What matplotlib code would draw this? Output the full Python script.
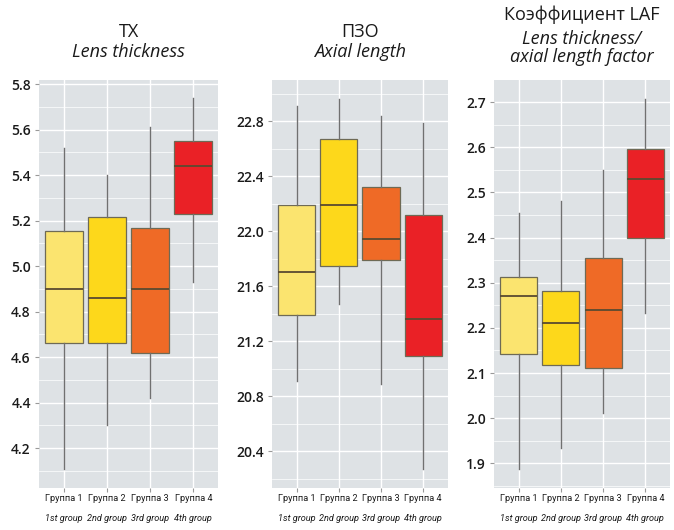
import matplotlib.pyplot as plt
from matplotlib.ticker import MultipleLocator

# group labels
groups_ru = ["Группа 1", "Группа 2", "Группа 3", "Группа 4"]
groups_en = ["1st group", "2nd group", "3rd group", "4th group"]
colors = ["#FBE46F", "#FDD81B", "#EF6A26", "#EA2126"]

# box stats per panel: whisker low, q1, median, q3, whisker high
lt_low = [4.11, 4.30, 4.42, 4.93]
lt_q1 = [4.66, 4.66, 4.62, 5.23]
lt_med = [4.90, 4.86, 4.90, 5.44]
lt_q3 = [5.155, 5.215, 5.167, 5.55]
lt_high = [5.52, 5.40, 5.61, 5.74]

al_low = [20.91, 21.47, 20.89, 20.27]
al_q1 = [21.39, 21.745, 21.79, 21.09]
al_med = [21.70, 22.19, 21.94, 21.36]
al_q3 = [22.19, 22.67, 22.32, 22.12]
al_high = [22.91, 22.96, 22.84, 22.79]

laf_low = [1.887, 1.935, 2.011, 2.233]
laf_q1 = [2.143, 2.117, 2.112, 2.399]
laf_med = [2.27, 2.21, 2.239, 2.53]
laf_q3 = [2.312, 2.281, 2.354, 2.596]
laf_high = [2.454, 2.48, 2.549, 2.707]

plt.rcParams['font.family'] = ['Open Sans', 'DejaVu Sans']

fig = plt.figure(figsize=(6.74, 5.3), dpi=100)

panels = [
    dict(rect=[0.058, 0.079, 0.266, 0.770], low=lt_low, q1=lt_q1, med=lt_med, q3=lt_q3, high=lt_high,
         ylim=(4.024, 5.818), major=0.2, minor=0.1,
         title="TX", sub="Lens thickness", ty=1.117, sy=1.069),
    dict(rect=[0.404, 0.079, 0.260, 0.770], low=al_low, q1=al_q1, med=al_med, q3=al_q3, high=al_high,
         ylim=(20.13, 23.10), major=0.4, minor=0.2,
         title="ПЗО", sub="Axial length", ty=1.117, sy=1.069),
    dict(rect=[0.733, 0.079, 0.261, 0.770], low=laf_low, q1=laf_q1, med=laf_med, q3=laf_q3, high=laf_high,
         ylim=(1.845, 2.749), major=0.1, minor=0.05,
         title="Коэффициент LAF", sub="Lens thickness/\naxial length factor", ty=1.160, sy=1.078),
]

for p in panels:
    ax = fig.add_axes(p["rect"])
    ax.set_facecolor("#DEE2E5")
    stats = []
    for i in range(4):
        stats.append(dict(whislo=p["low"][i], q1=p["q1"][i], med=p["med"][i],
                          q3=p["q3"][i], whishi=p["high"][i], fliers=[]))
    bp = ax.bxp(stats, positions=[1, 2, 3, 4], widths=0.88, patch_artist=True,
                showcaps=False, showfliers=False,
                boxprops=dict(edgecolor="#6E6A55", linewidth=0.9),
                medianprops=dict(color="#5A4A30", linewidth=1.3),
                whiskerprops=dict(color="#707070", linewidth=1.0))
    for patch, c in zip(bp["boxes"], colors):
        patch.set_facecolor(c)
    for s in ax.spines.values():
        s.set_visible(False)
    ax.set_xlim(0.42, 4.58)
    ax.set_ylim(*p["ylim"])
    ax.yaxis.set_major_locator(MultipleLocator(p["major"]))
    ax.yaxis.set_minor_locator(MultipleLocator(p["minor"]))
    ax.grid(True, which="major", color="white", linewidth=1.0)
    ax.grid(True, which="minor", axis="y", color="white", linewidth=0.5)
    ax.set_axisbelow(True)
    ax.tick_params(axis="y", which="major", length=3, color="#999999", labelsize=10,
                   labelcolor="#1A1A1A", pad=3)
    for lab in ax.get_yticklabels():
        lab.set_fontweight("semibold")
    ax.tick_params(axis="y", which="minor", length=0)
    ax.tick_params(axis="x", length=3, color="#999999", pad=3)
    ax.set_xticks([1, 2, 3, 4])
    ax.set_xticklabels([])
    for i in range(4):
        ax.text(i + 1, -0.014, groups_ru[i], transform=ax.get_xaxis_transform(),
                ha="center", va="top", fontsize=6.6, family=["Roboto", "DejaVu Sans"],
                color="#1A1A1A")
        ax.text(i + 1, -0.064, groups_en[i], transform=ax.get_xaxis_transform(),
                ha="center", va="top", fontsize=6.6, style="italic",
                family=["Roboto", "DejaVu Sans"], color="#1A1A1A")
    ax.text(0.5, p["sy"], p["sub"], transform=ax.transAxes, ha="center", va="center",
            fontsize=13, style="italic", color="#1A1A1A", linespacing=1.0)
    ax.text(0.5, p["ty"], p["title"], transform=ax.transAxes,
            ha="center", va="center", fontsize=13, color="#1A1A1A")

fig.savefig("out.png", dpi=100)
